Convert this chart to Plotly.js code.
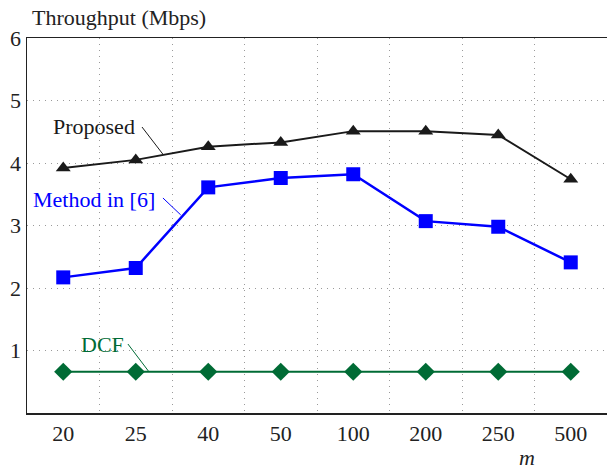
<!DOCTYPE html>
<html>
<head>
<meta charset="utf-8">
<script src="https://cdn.plot.ly/plotly-3.0.1.min.js"></script>
<style>html,body{margin:0;padding:0;background:#fff;}#chart{width:607px;height:470px;}</style>
</head>
<body>
<div id="chart"></div>
<script>
const categories = ['20', '25', '40', '50', '100', '200', '250', '500'];
const proposed = [3.92, 4.05, 4.26, 4.33, 4.51, 4.51, 4.45, 3.74];
const method6 = [2.17, 2.32, 3.61, 3.76, 3.82, 3.07, 2.98, 2.41];
const dcf = [0.66, 0.66, 0.66, 0.66, 0.66, 0.66, 0.66, 0.66];
const yTicks = [1, 2, 3, 4, 5, 6];

const FONT = "'Liberation Serif', 'Times New Roman', serif";
const BLACK = '#1a1a1a', BLUE = '#0000ff', GREEN = '#006b35';
const FS = 22;
const GRID = {showgrid: true, gridcolor: '#9a9a9a', griddash: '1px,5px', gridwidth: 1};

const traces = [
  {x: categories, y: proposed, name: 'Proposed', mode: 'lines+markers',
   line: {color: BLACK, width: 2}, marker: {symbol: 'triangle-up', size: 13, color: BLACK}},
  {x: categories, y: method6, name: 'Method in [6]', mode: 'lines+markers',
   line: {color: BLUE, width: 2.5}, marker: {symbol: 'square', size: 14, color: BLUE}},
  {x: categories, y: dcf, name: 'DCF', mode: 'lines+markers',
   line: {color: GREEN, width: 2}, marker: {symbol: 'diamond', size: 14, color: GREEN}}
];

const layout = {
  width: 607, height: 470,
  margin: {l: 27, r: 0, t: 38, b: 57},
  paper_bgcolor: '#fff', plot_bgcolor: '#fff',
  showlegend: false,
  font: {family: FONT, size: FS, color: '#222'},
  xaxis: Object.assign({
    type: 'category', range: [-0.5, 7.5], tickson: 'boundaries', ticks: '', ticklen: 0,
    showline: true, linecolor: '#222', linewidth: 1.5, mirror: true,
    zeroline: false, tickfont: {family: FONT, size: FS, color: '#222'}
  }, GRID),
  yaxis: Object.assign({
    range: [0, 6], tickvals: yTicks, ticktext: yTicks.map(String), ticks: '',
    showline: true, linecolor: '#222', linewidth: 1.5, zeroline: false,
    tickfont: {family: FONT, size: FS, color: '#222'}
  }, GRID),
  shapes: [
    {type: 'line', xref: 'x', yref: 'y', x0: 1.086, y0: 4.576, x1: 1.375, y1: 4.14, line: {color: BLACK, width: 1}},
    {type: 'line', xref: 'x', yref: 'y', x0: 1.375, y0: 3.44, x1: 1.62, y1: 3.17, line: {color: BLUE, width: 1}},
    {type: 'line', xref: 'x', yref: 'y', x0: 0.892, y0: 1.104, x1: 1.182, y1: 0.66, line: {color: GREEN, width: 1}}
  ],
  annotations: [
    {text: 'Throughput (Mbps)', xref: 'paper', yref: 'paper', x: 0, xshift: 3, y: 1, yshift: 21,
     xanchor: 'left', yanchor: 'middle', showarrow: false, font: {family: FONT, size: FS, color: '#222'}},
    {text: '<i>m</i>', xref: 'paper', yref: 'paper', x: 0.862, y: 0, yshift: -44,
     xanchor: 'center', yanchor: 'middle', showarrow: false, font: {family: FONT, size: FS, color: '#222'}},
    {text: 'Proposed', xref: 'x', yref: 'y', x: 1.02, y: 4.59, xanchor: 'right', yanchor: 'middle',
     showarrow: false, font: {family: FONT, size: FS, color: BLACK}},
    {text: 'Method in [6]', xref: 'x', yref: 'y', x: 1.29, y: 3.42, xanchor: 'right', yanchor: 'middle',
     showarrow: false, font: {family: FONT, size: FS, color: BLUE}},
    {text: 'DCF', xref: 'x', yref: 'y', x: 0.86, y: 1.1, xanchor: 'right', yanchor: 'middle',
     showarrow: false, font: {family: FONT, size: FS, color: GREEN}}
  ]
};

Plotly.newPlot('chart', traces, layout, {displayModeBar: false, staticPlot: true});
</script>
</body>
</html>
